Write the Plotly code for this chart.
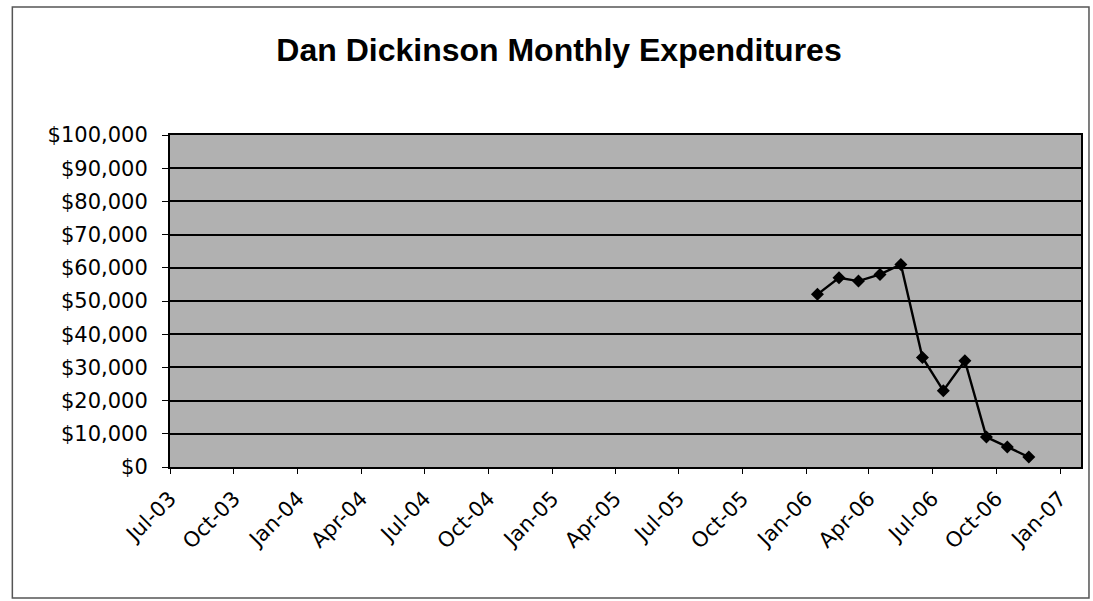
import plotly.graph_objects as go

# Data
months = ["2006-01-17", "2006-02-17", "2006-03-17", "2006-04-17", "2006-05-17",
          "2006-06-17", "2006-07-17", "2006-08-17", "2006-09-17", "2006-10-17",
          "2006-11-17"]
expenditures = [52000, 57000, 56000, 58000, 61000, 33000, 23000, 32000, 9000, 6000, 3000]

title_text = "Dan Dickinson Monthly Expenditures"
x_range = ["2003-07-01", "2007-01-31"]
y_ticks = list(range(0, 100001, 10000))

W, H = 1093, 601
L, R, T, B = 170, 10, 135, 134
pw = W - L - R
ph = H - T - B

fig = go.Figure()
fig.add_trace(go.Scatter(
    x=months, y=expenditures, mode="lines+markers",
    line=dict(color="black", width=2.4),
    marker=dict(symbol="diamond", size=10, color="black"),
    showlegend=False,
))

font_family = "Liberation Sans, Arial, sans-serif"
tick_family = "DejaVu Sans, Liberation Sans, sans-serif"

fig.update_layout(
    width=W, height=H,
    margin=dict(l=L, r=R, t=T, b=B),
    paper_bgcolor="white",
    plot_bgcolor="#b1b1b1",
    title=dict(text="<b>" + title_text + "</b>", x=559 / W, xanchor="center",
               y=1 - 50 / H, yanchor="middle", xref="container", yref="container",
               font=dict(family=font_family, size=32, color="black")),
    font=dict(family=font_family, color="black"),
    xaxis=dict(
        type="date", range=x_range, tick0="2003-07-01", dtick="M3",
        tickformat="%b-%y", tickangle=-45, showgrid=False,
        ticks="outside", ticklen=5, tickcolor="black",
        tickfont=dict(family=tick_family, size=21, color="black"),
        ticklabelstandoff=4,
        showline=True, linecolor="black", linewidth=2, mirror=True,
        zeroline=False,
    ),
    yaxis=dict(
        range=[0, 100000], tickvals=y_ticks, tickformat="$,.0f",
        showgrid=True, gridcolor="black", gridwidth=2,
        ticks="outside", ticklen=6, tickcolor="black",
        tickfont=dict(family=tick_family, size=21, color="black"),
        ticklabelstandoff=10,
        showline=True, linecolor="black", linewidth=2, mirror=True,
        zeroline=False,
    ),
)

# outer chart-area border
fig.add_shape(type="rect", xref="paper", yref="paper",
              x0=(12 - L) / pw, x1=(1091 - L) / pw,
              y0=(H - B - 598) / ph, y1=(H - B - 7) / ph,
              line=dict(color="#555555", width=1.5), layer="below")

fig.write_html("out.html", config={"displayModeBar": False},
               post_script="document.body.style.margin='0';")
